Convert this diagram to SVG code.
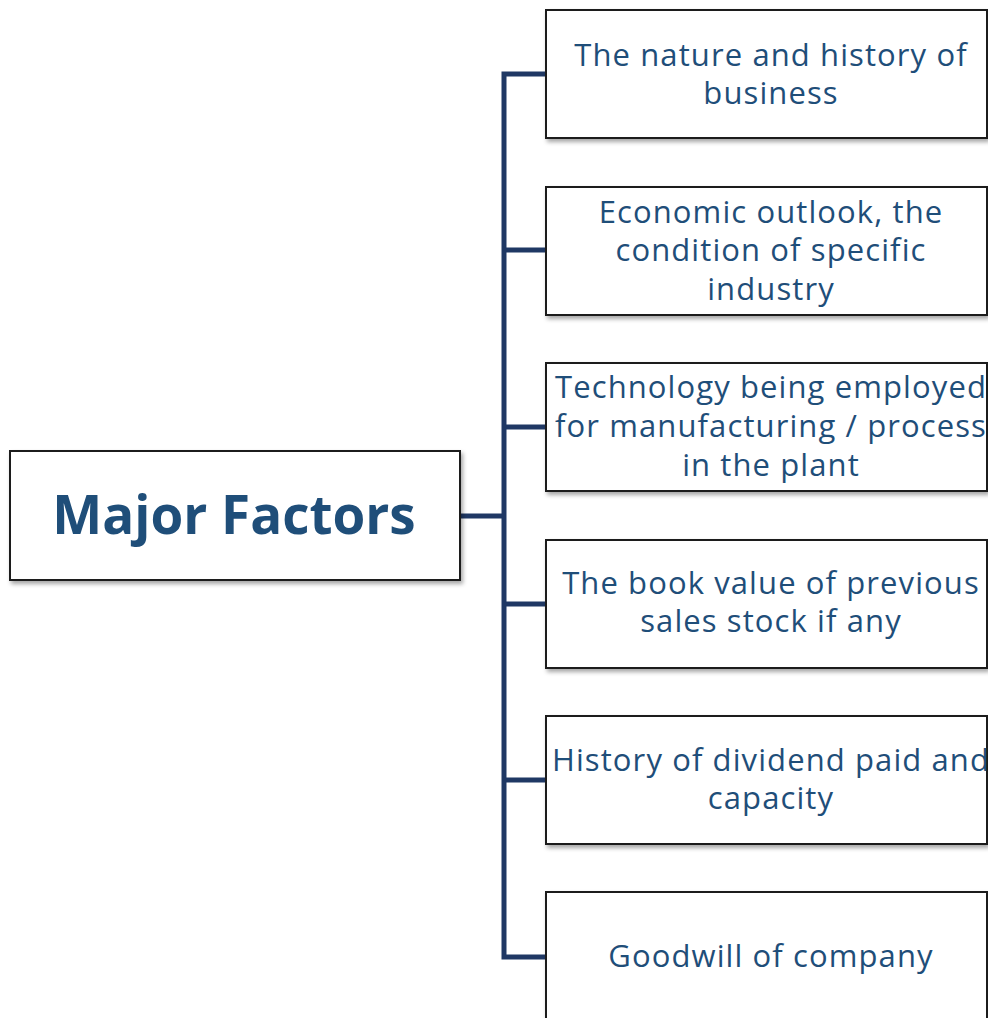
<svg xmlns="http://www.w3.org/2000/svg" width="988" height="1018" viewBox="0 0 988 1018">
<defs>
<filter id="sh" x="-5%" y="-5%" width="110%" height="115%">
<feDropShadow dx="2" dy="3" stdDeviation="2" flood-color="#000" flood-opacity="0.35"/>
</filter>
<style>
.box{fill:#fff;stroke:#1a1a1a;stroke-width:2;filter:url(#sh)}
.t{font-family:"Open Sans","Noto Sans",sans-serif;font-size:31px;letter-spacing:1.1px;fill:#1F4E79;text-anchor:middle}
.m{font-family:"Open Sans","Noto Sans",sans-serif;font-size:53px;font-weight:bold;fill:#1F4E79;text-anchor:middle}
.c{stroke:#1F3864;stroke-width:5;fill:none}
</style>
</defs>
<g id="connectors">
<path class="c" d="M460 516H504"/>
<path class="c" d="M546 74H504V957H546"/>
<path class="c" d="M504 250H546M504 427H546M504 604H546M504 780H546"/>
</g>
<g id="main">
<rect class="box" x="10" y="451" width="450" height="129"/>
<text class="m" x="234" y="534">Major Factors</text>
</g>
<g id="n1">
<rect class="box" x="546" y="10" width="441" height="128"/>
<text class="t" x="771" y="66">The nature and history of</text>
<text class="t" x="771" y="104">business</text>
</g>
<g id="n2">
<rect class="box" x="546" y="187" width="441" height="128"/>
<text class="t" x="771" y="223">Economic outlook, the</text>
<text class="t" x="771" y="261">condition of specific</text>
<text class="t" x="771" y="300">industry</text>
</g>
<g id="n3">
<rect class="box" x="546" y="363" width="441" height="128"/>
<text class="t" x="771" y="398">Technology being employed</text>
<text class="t" x="771" y="437">for manufacturing / process</text>
<text class="t" x="771" y="476">in the plant</text>
</g>
<g id="n4">
<rect class="box" x="546" y="540" width="441" height="128"/>
<text class="t" x="771" y="594">The book value of previous</text>
<text class="t" x="771" y="632">sales stock if any</text>
</g>
<g id="n5">
<rect class="box" x="546" y="716" width="441" height="128"/>
<text class="t" x="771" y="771">History of dividend paid and</text>
<text class="t" x="771" y="809">capacity</text>
</g>
<g id="n6">
<rect class="box" x="546" y="892" width="441" height="130"/>
<text class="t" x="771" y="967">Goodwill of company</text>
</g>
</svg>
